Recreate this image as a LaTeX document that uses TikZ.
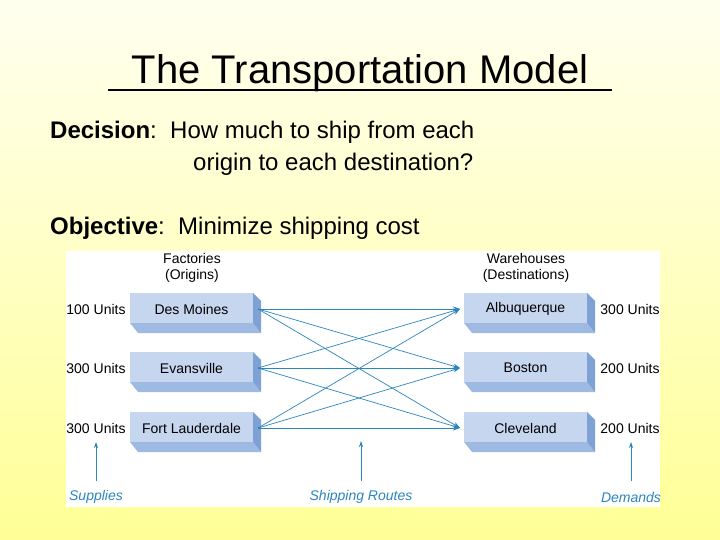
\documentclass[tikz,border=0pt]{standalone}
\usetikzlibrary{arrows.meta}
\usepackage{fontspec}
\setmainfont{Liberation Sans}
\definecolor{frontc}{HTML}{C6D6EF}
\definecolor{sidec}{HTML}{7EA2D5}
\definecolor{botc}{HTML}{9FBAE2}
\definecolor{linec}{HTML}{2C86BE}
\begin{document}
\begin{tikzpicture}[x=1pt,y=-1pt,
  lbl/.style={font=\fontsize{14}{16}\selectfont, inner sep=0pt},
  captxt/.style={font=\fontsize{14}{16}\selectfont\itshape, text=linec, inner sep=0pt},
  route/.style={draw=linec, line width=0.7pt, -{Stealth[length=7pt,width=5pt]}},
  up/.style={draw=linec, line width=0.8pt, -{Stealth[length=6pt,width=4pt]}}]
\useasboundingbox (0,0) rectangle (720,540);
\shade[top color={rgb,255:red,255;green,255;blue,240}, bottom color={rgb,255:red,255;green,255;blue,150}] (0,0) rectangle (720,540);
\fill[white] (66,251) rectangle (660,507);
\node[font=\fontsize{40}{44}\selectfont, anchor=base] (title) at (360,84) {The Transportation Model};
\draw[line width=1.6pt] (108,90) -- (612,90);
\node[font=\fontsize{24}{28}\selectfont, anchor=base west, inner sep=0pt] (dec) at (50,139) {\textbf{Decision}:\ \ How much to ship from each};
\node[font=\fontsize{24}{28}\selectfont, anchor=base west, inner sep=0pt] (dec2) at (193,171) {origin to each destination?};
\node[font=\fontsize{24}{28}\selectfont, anchor=base west, inner sep=0pt] (obj) at (50,235) {\textbf{Objective}:\ \ Minimize shipping cost};
\node[lbl, align=center] (fh) at (192,268) {Factories\\(Origins)};
\node[lbl, align=center] (wh) at (526,268) {Warehouses\\(Destinations)};
\foreach \n/\x/\y/\t in {a/130/309/Des Moines,b/130/368/Evansville,c/130/428/Fort Lauderdale,d/464/309/Albuquerque,e/464/368/Boston,f/464/428/Cleveland}{
  \fill[botc] (\x,\y+14) -- (\x+123,\y+14) -- (\x+131,\y+24) -- (\x+8,\y+24) -- cycle;
  \fill[sidec] (\x+123,\y-16) -- (\x+131,\y-8) -- (\x+131,\y+24) -- (\x+123,\y+14) -- cycle;
  \fill[frontc] (\x,\y-16) rectangle (\x+123,\y+14);
  \node[lbl] (\n) at (\x+61.5,\y) {\t};
  \coordinate (\n R) at (\x+128,\y);
  \coordinate (\n L) at (\x-4,\y);
}
\foreach \s in {a,b,c}{\foreach \d in {d,e,f}{\draw[route] (\s R) -- (\d L);}}
\node[lbl] (s1) at (96,309) {100 Units};
\node[lbl] (s2) at (96,368) {300 Units};
\node[lbl] (s3) at (96,428) {300 Units};
\node[lbl] (d1) at (630,309) {300 Units};
\node[lbl] (d2) at (630,368) {200 Units};
\node[lbl] (d3) at (630,428) {200 Units};
\node[captxt] (sup) at (96,497) {Supplies};
\node[captxt] (shr) at (361,497) {Shipping Routes};
\node[captxt] (dem) at (631,497) {Demands};
\coordinate (st) at (96,442);
\coordinate (rt) at (361,441);
\coordinate (dt) at (631,442);
\draw[up] (96,481) -- (st);
\draw[up] (361,481) -- (rt);
\draw[up] (631,481) -- (dt);
\end{tikzpicture}
\end{document}
